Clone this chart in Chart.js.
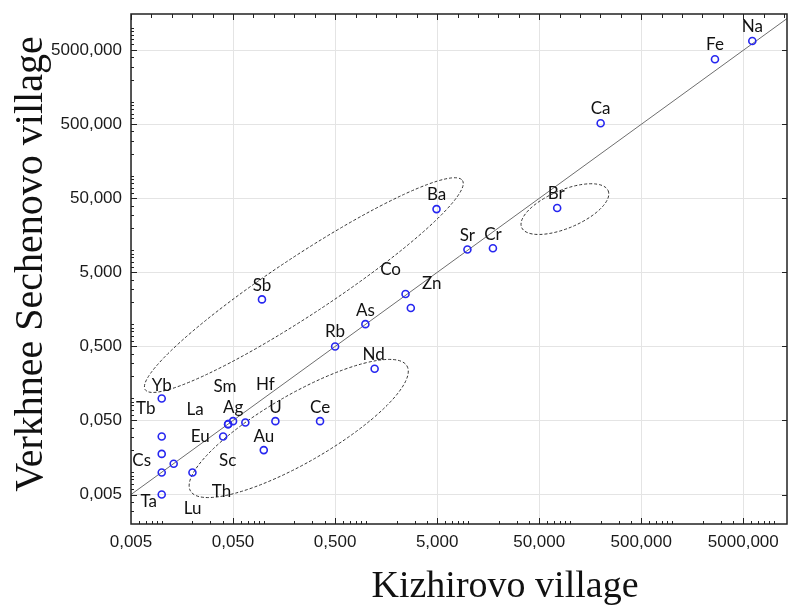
<!DOCTYPE html>
<html>
<head>
<meta charset="utf-8">
<script src="https://cdn.jsdelivr.net/npm/chart.js@4.4.0/dist/chart.umd.min.js"></script>
<style>
  html, body { margin: 0; padding: 0; background: #fff; }
  #wrap { width: 788px; height: 606px; }
</style>
</head>
<body>
<div id="wrap"><canvas id="chart" width="788" height="606"></canvas></div>
<script>
// element concentrations, Kizhirovo (x) vs Verkhnee Sechenovo (y)
const elements  = ['Na', 'Fe', 'Ca', 'Br', 'Cr', 'Sr', 'Ba', 'Sb', 'Co', 'Zn', 'As', 'Rb', 'Nd', 'Yb',
                   'Tb', 'Cs', 'Ta', 'Lu', 'Sc', 'Th', 'Eu', 'La', 'Sm', 'Ag', 'Hf', 'U', 'Ce', 'Au'];
const kizhirovo = [6124, 2638, 200, 75, 17.6, 9.9, 4.93, 0.096, 2.45, 2.76, 0.99, 0.5, 1.22, 0.01,
                   0.01, 0.01, 0.01, 0.01, 0.0131, 0.02, 0.04, 0.0447, 0.0447, 0.05, 0.066, 0.13, 0.356, 0.1];
const sechenovo = [6682, 3776, 516, 37, 10.6, 10.2, 35.8, 2.16, 2.55, 1.65, 1.0, 0.5, 0.25, 0.099,
                   0.0304, 0.0177, 0.005, 0.0099, 0.013, 0.0099, 0.0304, 0.0446, 0.0446, 0.049, 0.047, 0.049, 0.049, 0.0199];

const tickValues = [0.005, 0.05, 0.5, 5, 50, 500, 5000];
const tickLabels = ['0,005', '0,050', '0,500', '5,000', '50,000', '500,000', '5000,000'];
const xRange = [0.005, 13400];
const yRange = [0.002, 15450];

// where each label sits relative to its point (px)
const labelShift = {
  Na: [0, -15], Fe: [0, -15], Ca: [0, -15], Br: [-1, -15], Cr: [0, -14], Sr: [0, -14],
  Ba: [0, -15], Sb: [0, -14], Co: [-15, -25], Zn: [21, -25], As: [0, -14], Rb: [0, -15],
  Nd: [-1, -15], Yb: [0, -14], Tb: [-16, -28], Cs: [-20, 6], Ta: [-13, 6], Lu: [31, 35],
  Sc: [54, -4], Th: [29, 18], Eu: [-23, 0], Sm: [-3, -38], La: [-33, -15], Ag: [0, -14],
  Hf: [20, -38], U: [0, -14], Ce: [0, -14], Au: [0, -14]
};

// dashed groupings: centre in data units, radii in px, angle in degrees
const groups = [
  { cx: 0.247, cy: 3.37, rx: 190, ry: 29, angle: -33.4 },
  { cx: 89.3, cy: 35.8, rx: 47, ry: 19, angle: -23 },
  { cx: 0.22, cy: 0.039, rx: 125, ry: 34, angle: -30 }
];

function minorTicks(min, max) {
  const out = [];
  for (let e = Math.floor(Math.log10(min)) - 1; e <= Math.ceil(Math.log10(max)); e++) {
    for (let k = 1; k <= 9; k++) {
      const v = k * Math.pow(10, e);
      if (v > min * 1.0001 && v < max * 0.9999) out.push(v);
    }
  }
  return out;
}

const decor = {
  id: 'decor',
  beforeDatasetsDraw(chart) {
    const ctx = chart.ctx, xs = chart.scales.x, ys = chart.scales.y;
    ctx.save();
    ctx.strokeStyle = '#333';
    ctx.lineWidth = 1;
    ctx.setLineDash([3, 2]);
    groups.forEach(g => {
      ctx.beginPath();
      ctx.ellipse(xs.getPixelForValue(g.cx), ys.getPixelForValue(g.cy), g.rx, g.ry,
        g.angle * Math.PI / 180, 0, 2 * Math.PI);
      ctx.stroke();
    });
    ctx.restore();
  },
  afterDatasetsDraw(chart) {
    const ctx = chart.ctx;
    const meta = chart.getDatasetMeta(0);
    ctx.save();
    ctx.fillStyle = '#111';
    ctx.font = '17px Lato';
    ctx.textAlign = 'center';
    ctx.textBaseline = 'alphabetic';
    meta.data.forEach((pt, i) => {
      const s = labelShift[elements[i]] || [0, -14];
      ctx.fillText(elements[i], pt.x + s[0], pt.y + s[1] + 6);
    });
    ctx.restore();
  },
  afterDraw(chart) {
    const ctx = chart.ctx, a = chart.chartArea, xs = chart.scales.x, ys = chart.scales.y;
    ctx.save();
    ctx.strokeStyle = '#222';
    ctx.lineWidth = 1;
    // tick marks, pointing inwards
    ctx.beginPath();
    minorTicks(xRange[0], xRange[1]).forEach(v => {
      const px = Math.round(xs.getPixelForValue(v)) + 0.5;
      const len = tickValues.includes(v) ? 6 : 3;
      ctx.moveTo(px, a.bottom); ctx.lineTo(px, a.bottom - len);
    });
    minorTicks(yRange[0], yRange[1]).forEach(v => {
      const py = Math.round(ys.getPixelForValue(v)) + 0.5;
      const len = tickValues.includes(v) ? 6 : 3;
      ctx.moveTo(a.left, py); ctx.lineTo(a.left + len, py);
    });
    for (let i = 0; i <= 40; i++) {
      const v = xRange[0] * Math.pow(10, i / 5);
      if (v > xRange[1]) break;
      const px = Math.round(xs.getPixelForValue(v)) + 0.5;
      ctx.moveTo(px, a.top); ctx.lineTo(px, a.top + (i % 5 === 0 ? 6 : 4));
    }
    tickValues.forEach(v => {
      const py = Math.round(ys.getPixelForValue(v)) + 0.5;
      ctx.moveTo(a.right, py); ctx.lineTo(a.right - 5, py);
    });
    ctx.stroke();
    // frame
    ctx.lineWidth = 1.5;
    ctx.strokeRect(a.left, a.top, a.right - a.left, a.bottom - a.top);

    // axis titles
    ctx.fillStyle = '#111';
    ctx.textAlign = 'center';
    ctx.textBaseline = 'alphabetic';
    ctx.font = '38px "Liberation Serif"';
    ctx.fillText('Kizhirovo village', 505, 597);
    ctx.translate(42, 264);
    ctx.rotate(-Math.PI / 2);
    ctx.font = '40px "Liberation Serif"';
    ctx.fillText('Verkhnee Sechenovo village', 0, 0);
    ctx.restore();
  }
};

const tickFont = { family: 'Liberation Sans', size: 17 };

new Chart(document.getElementById('chart'), {
  type: 'scatter',
  data: {
    datasets: [
      {
        data: elements.map((n, i) => ({ x: kizhirovo[i], y: sechenovo[i] })),
        pointRadius: 3.5,
        borderColor: '#2626f0',
        backgroundColor: 'rgba(255,255,255,0)',
        borderWidth: 1.6,
        order: 1
      },
      {
        data: [{ x: 0.005, y: 0.005 }, { x: 20000, y: 20000 }],
        showLine: true,
        borderColor: '#6e6e6e',
        borderWidth: 1,
        pointRadius: 0,
        order: 2
      }
    ]
  },
  options: {
    responsive: false,
    animation: false,
    devicePixelRatio: 1,
    layout: { autoPadding: false, padding: { top: 14, right: 1, left: 0, bottom: 0 } },
    plugins: { legend: { display: false }, tooltip: { enabled: false } },
    scales: {
      x: {
        type: 'logarithmic',
        min: xRange[0],
        max: xRange[1],
        afterBuildTicks: s => { s.ticks = tickValues.map(v => ({ value: v })); },
        afterFit: s => { s.height = 82; s.paddingLeft = 0; s.paddingRight = 0; },
        grid: { color: '#e4e4e4', drawTicks: false },
        border: { display: false },
        ticks: {
          padding: 8, autoSkip: false, maxRotation: 0, color: '#1a1a1a', font: tickFont,
          callback: (v, i) => tickLabels[i]
        }
      },
      y: {
        type: 'logarithmic',
        min: yRange[0],
        max: yRange[1],
        afterBuildTicks: s => { s.ticks = tickValues.map(v => ({ value: v })); },
        afterFit: s => { s.width = 131; s.paddingTop = 0; s.paddingBottom = 0; },
        grid: { color: '#e4e4e4', drawTicks: false },
        border: { display: false },
        ticks: {
          padding: 9, autoSkip: false, color: '#1a1a1a', font: tickFont,
          callback: (v, i) => tickLabels[i]
        }
      }
    }
  },
  plugins: [decor]
});
</script>
</body>
</html>
